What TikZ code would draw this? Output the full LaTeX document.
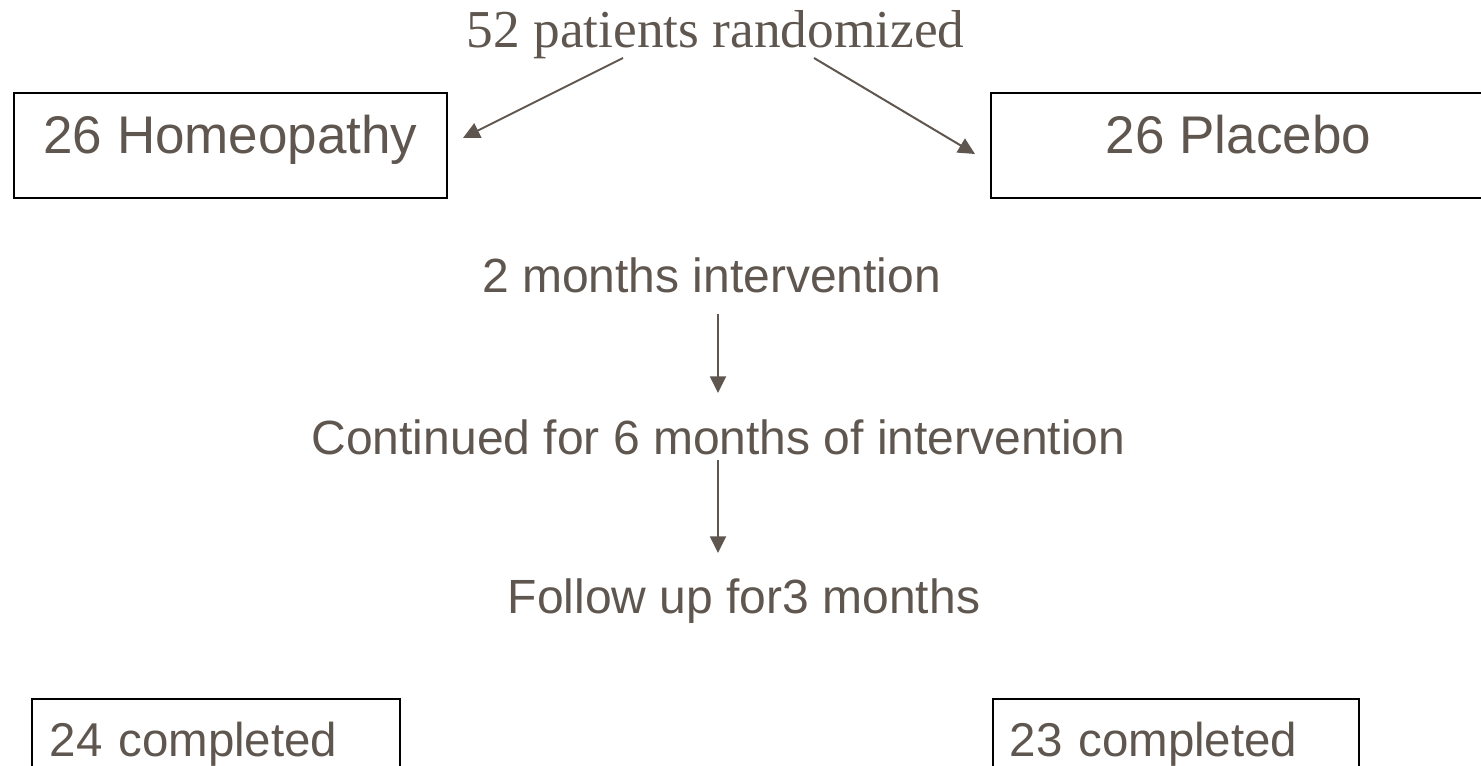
\documentclass[tikz,border=0pt]{standalone}
\usepackage{fontspec}
\setmainfont{Liberation Sans}
\newfontfamily\titlefont{Liberation Serif}
\usetikzlibrary{arrows.meta}
\definecolor{ink}{RGB}{95,87,79}
\tikzset{
  lbl/.style={anchor=base, inner sep=0pt, text=ink, font=\fontsize{36pt}{40pt}\selectfont},
  grpbox/.style={draw=black, line width=1.2pt, anchor=base, inner ysep=0pt, inner xsep=0pt,
    text=ink, font=\fontsize{39.75pt}{44pt}\selectfont},
  endbox/.style={draw=black, line width=1.2pt, anchor=base west, inner ysep=0pt,
    text=ink, align=left, font=\fontsize{35.6pt}{40pt}\selectfont},
  arr/.style={draw=ink, line width=1.5pt, -{Triangle[length=12.5pt,width=12pt]}}
}
\begin{document}
\begin{tikzpicture}[x=0.75pt,y=-0.75pt]
\fill[white] (0,0) rectangle (1481,766);
\useasboundingbox (0,0) rectangle (1481,766);

\node[anchor=base, inner sep=0pt, text=ink, font=\titlefont\fontsize{40pt}{44pt}\selectfont]
  (title) at (715.5,48) {52 patients randomized};

\node[grpbox, minimum width=324.75pt, text height=45.75pt, text depth=33pt]
  (homeo) at (230.5,154) {26 Homeopathy};
\node[grpbox, minimum width=371.25pt, text height=45.75pt, text depth=33pt]
  (placebo) at (1238.5,154) {26 Placebo};

\node[lbl] (two) at (711.5,293) {2 months intervention};
\node[lbl] (cont) at (718.5,455) {Continued for 6 months of intervention};
\node[lbl] (follow) at (744,613) {Follow up for3 months};

\node[endbox, inner xsep=13.5pt, text width=249pt, text height=42.75pt, text depth=45pt]
  (hdone) at (31,756) {24 completed};
\node[endbox, inner xsep=12.75pt, text width=249pt, text height=42.75pt, text depth=45pt]
  (pdone) at (992,756) {23 completed};

\coordinate (tl) at (623,58);
\coordinate (tr) at (814,58);
\coordinate (hl) at (463,138);
\coordinate (pr) at (975,154);
\coordinate (a1s) at (718,314);
\coordinate (a1e) at (718,393);
\coordinate (a2s) at (718,460);
\coordinate (a2e) at (718,553);

\draw[arr] (tl) -- (hl);
\draw[arr] (tr) -- (pr);
\draw[arr] (a1s) -- (a1e);
\draw[arr] (a2s) -- (a2e);
\end{tikzpicture}
\end{document}
